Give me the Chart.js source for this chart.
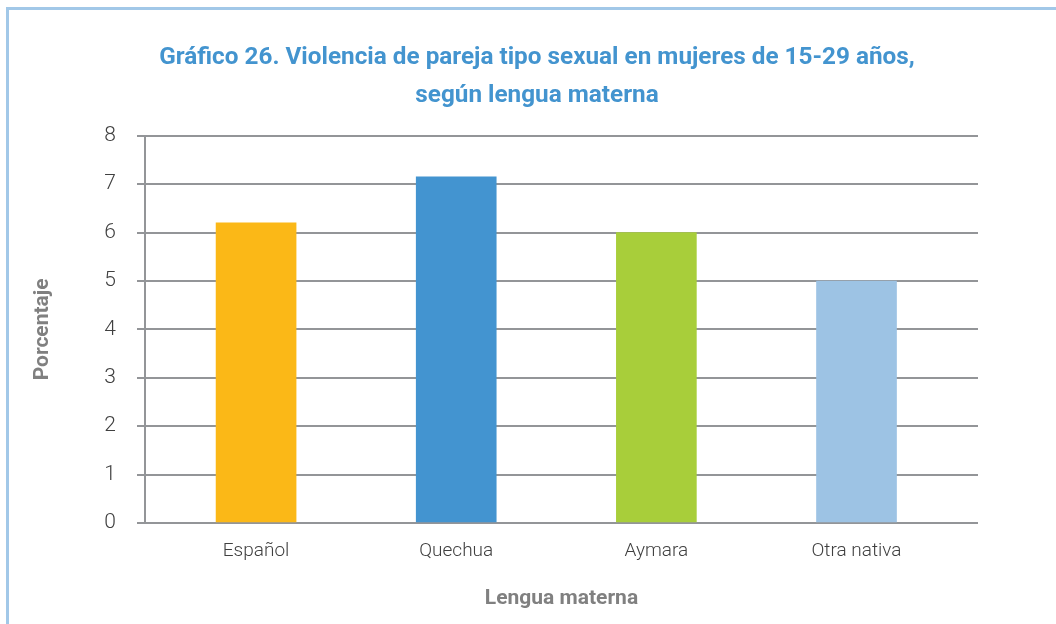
<!DOCTYPE html>
<html>
<head>
<meta charset="utf-8">
<script src="https://cdn.jsdelivr.net/npm/chart.js@4/dist/chart.umd.min.js"></script>
<style>
    body { margin: 0; background: #ffffff; }
    #wrap { position: absolute; left: 0; top: 0; width: 1056px; height: 624px; }
    #frame {
        position: absolute; left: 6px; top: 7px; width: 1100px; height: 700px;
        border-left: 3px solid #a2c8e8; border-top: 3px solid #a2c8e8;
    }
</style>
</head>
<body>
<div id="wrap">
    <div id="frame"></div>
    <canvas id="lenguaChart" width="1056" height="624"></canvas>
</div>

<script>

    const categories = ["Español", "Quechua", "Aymara", "Otra nativa"];
    const porcentajes = [6.2, 7.15, 6.0, 5.0];
    const barColors = ["#fbb817", "#4394d0", "#a8ce3a", "#9dc3e4"];
    const yTicks = [0, 1, 2, 3, 4, 5, 6, 7, 8];

    // the bars sit a little left of the gridline span, so the category
    // positions run on a linear scale with a wider right margin
    const xMin = -0.555;
    const xMax = 3.607;

    const gridGray = "#939598";
    const font = "Roboto, 'Liberation Sans', sans-serif";

    const chart = document.getElementById("lenguaChart");

    new Chart(chart, {
        type: "bar",
        data: {
            datasets: [{
                data: porcentajes.map((v, i) => ({ x: i, y: v })),
                backgroundColor: barColors,
                borderWidth: 0,
                barThickness: 80
            }]
        },
        options: {
            responsive: false,
            animation: false,
            // title is centred a bit right of the canvas middle, the empty
            // right axis brings the plot back inside
            layout: { padding: { left: 0, right: -18, top: 0, bottom: 0 } },
            plugins: {
                legend: { display: false },
                tooltip: { enabled: false },
                title: {
                    display: true,
                    text: [
                        "Gráfico 26. Violencia de pareja tipo sexual en mujeres de 15-29 años,",
                        "según lengua materna"
                    ],
                    color: "#4394cf",
                    font: { family: font, size: 24.3, weight: "bold", lineHeight: 1.6 },
                    padding: { top: 38, bottom: 20 }
                }
            },
            scales: {
                x: {
                    type: "linear",
                    min: xMin,
                    max: xMax,
                    offset: false,
                    afterBuildTicks: scale => {
                        scale.ticks = [{ value: xMin }].concat(categories.map((c, i) => ({ value: i })));
                    },
                    grid: {
                        display: true,
                        drawOnChartArea: false,
                        tickLength: 7,
                        lineWidth: 2,
                        color: ctx => ctx.index === 0 ? gridGray : "rgba(0,0,0,0)"
                    },
                    border: { display: false },
                    ticks: {
                        color: "#404040",
                        padding: 10,
                        maxRotation: 0,
                        autoSkip: false,
                        font: { family: font, size: 19, weight: 300 },
                        callback: v => Number.isInteger(v) ? categories[v] : ""
                    },
                    title: {
                        display: true,
                        text: "Lengua materna",
                        color: "#808080",
                        font: { family: font, size: 21, weight: "bold" },
                        padding: { top: 0, bottom: 13 }
                    },
                    afterFit: scale => { scale.height = 101; }
                },
                y: {
                    min: 0,
                    max: 8,
                    afterBuildTicks: scale => {
                        scale.ticks = yTicks.map(v => ({ value: v }));
                    },
                    grid: {
                        color: gridGray,
                        lineWidth: 2,
                        tickLength: 8
                    },
                    border: { display: true, color: gridGray, width: 2 },
                    ticks: {
                        color: "#404040",
                        padding: 21,
                        font: { family: font, size: 21, weight: 300 }
                    },
                    title: {
                        display: true,
                        text: "Porcentaje",
                        color: "#808080",
                        font: { family: font, size: 21, weight: "bold" },
                        padding: { top: 30, bottom: 0 }
                    },
                    afterFit: scale => { scale.width = 145; }
                },
                yRight: {
                    position: "right",
                    display: true,
                    grid: { display: false },
                    border: { display: false },
                    ticks: { display: false },
                    afterFit: scale => { scale.width = 96; }
                }
            }
        }
    });

</script>
</body>
</html>
